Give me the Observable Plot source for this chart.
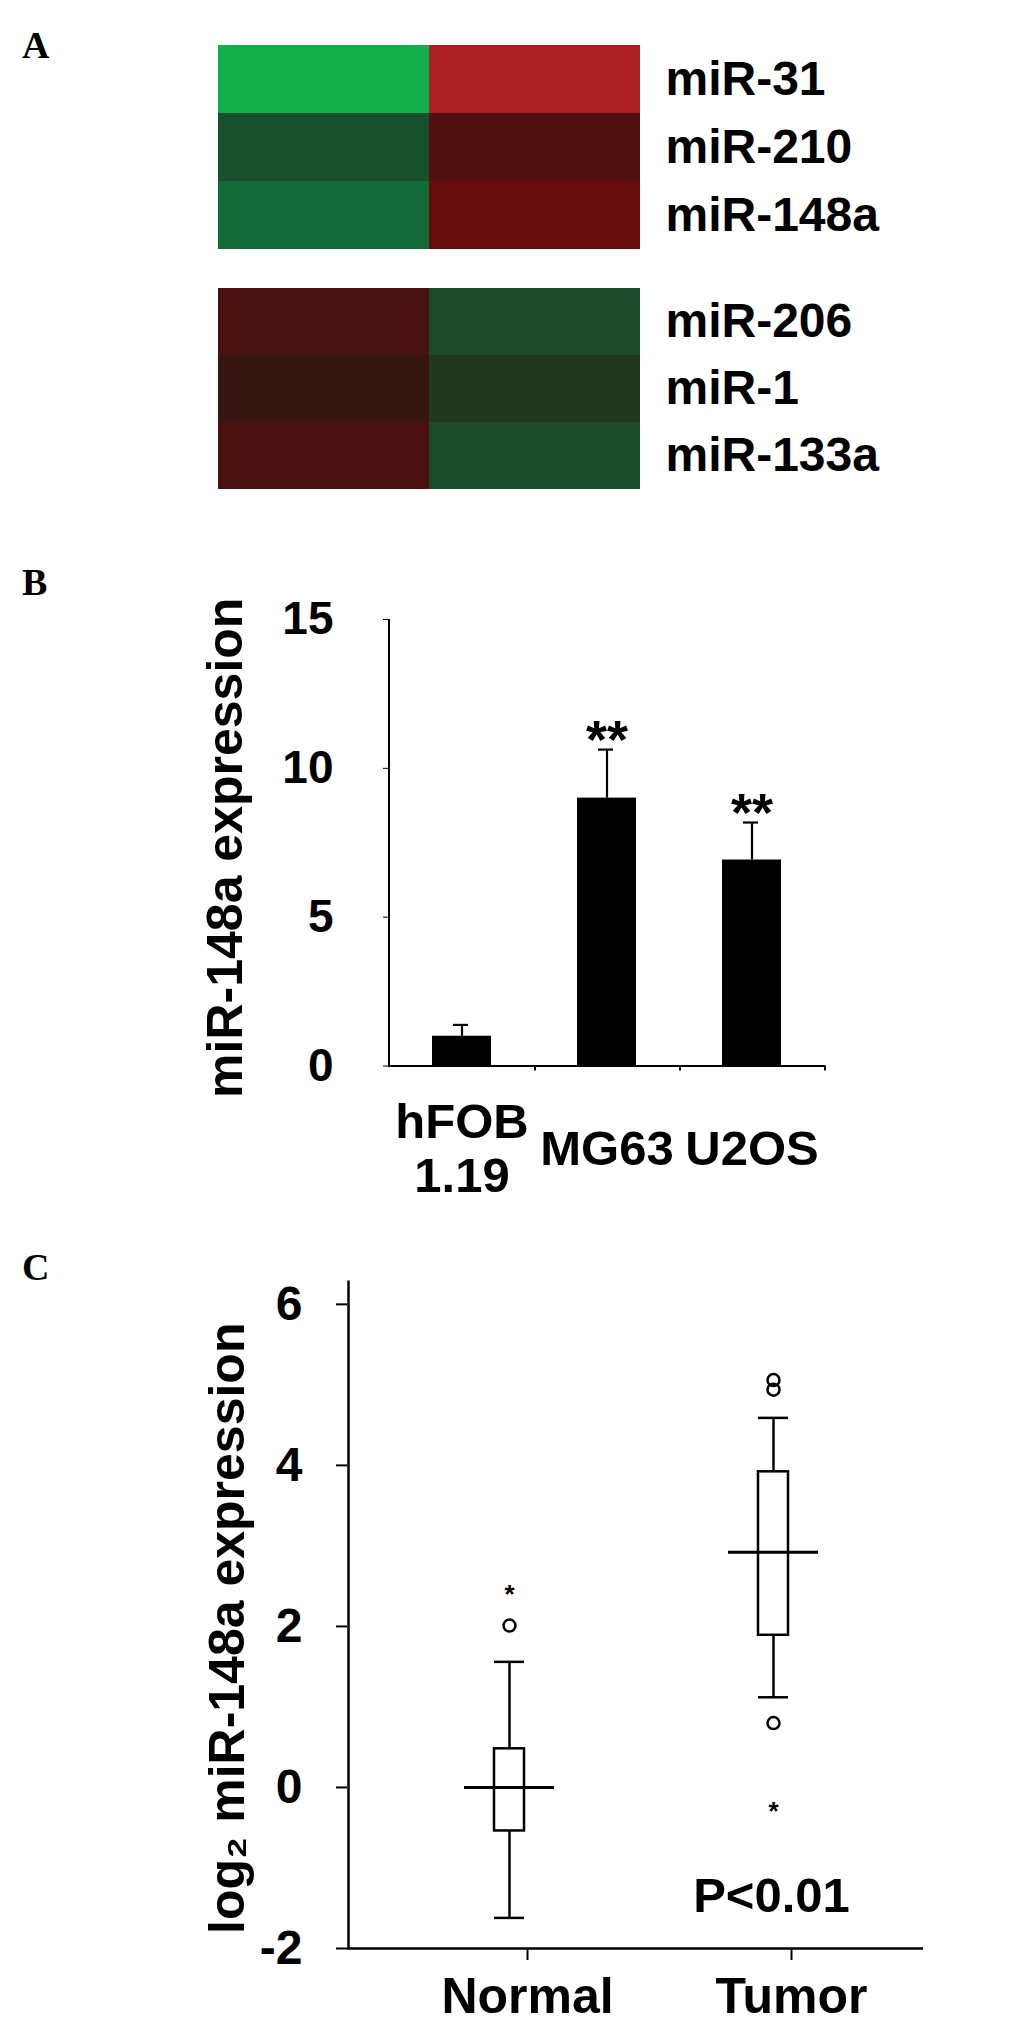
<!DOCTYPE html>
<html>
<head>
<meta charset="utf-8">
<script src="https://cdn.jsdelivr.net/npm/d3@7"></script>
<script src="https://cdn.jsdelivr.net/npm/@observablehq/plot@0.6"></script>
<style>
html, body { margin: 0; padding: 0; background: #fff; }
#page { position: relative; width: 1033px; height: 2023px; overflow: hidden; background: #fff; }
.panel { position: absolute; left: 0; }
.tag { position: absolute; left: 22px; font: bold 38px 'Liberation Serif', 'Times New Roman', serif; line-height: 38px; color: #000; }
</style>
</head>
<body>
<div id="page"></div>
<script>
// ---------- Panel A: heatmap ----------
const heatColumns = ["control", "osteosarcoma"];
const upRows = ["miR-31", "miR-210", "miR-148a"];
const upControl = [-1.0, -0.335, -0.5];
const upTumor = [1.0, 0.3, 0.5];
const downRows = ["miR-206", "miR-1", "miR-133a"];
const downControl = [0.23, 0.09, 0.26];
const downTumor = [-0.3, -0.19, -0.31];

// ---------- Panel B: bar chart ----------
const cellLines = ["hFOB\n1.19", "MG63", "U2OS"];
const expression = [1.0, 9.0, 6.92];
const expressionErr = [0.38, 1.63, 1.26];
const significance = ["", "**", "**"];
const yTicksB = [0, 5, 10, 15];
const yLabelB = "miR-148a expression";

// ---------- Panel C: box plot ----------
const groups = ["Normal", "Tumor"];
const q1 = [-0.54, 1.89];
const median = [0.0, 2.92];
const q3 = [0.48, 3.92];
const whiskerLow = [-1.62, 1.12];
const whiskerHigh = [1.56, 4.59];
const outlierGroup = ["Normal", "Tumor", "Tumor", "Tumor"];
const outlierValue = [2.01, 5.06, 4.94, 0.80];
const extremeGroup = ["Normal", "Tumor"];
const extremeValue = [2.47, -0.23];
const yTicksC = [-2, 0, 2, 4, 6];
const yLabelC = "log\u2082 miR-148a expression";
const pText = ["P<0.01"];

const SANS = "'Liberation Sans', Arial, Helvetica, sans-serif";
const page = document.getElementById("page");

function place(node, top) {
  node.classList.add("panel");
  node.style.top = top + "px";
  page.appendChild(node);
}
function tag(letter, top) {
  const d = document.createElement("div");
  d.className = "tag";
  d.textContent = letter;
  d.style.top = top + "px";
  page.appendChild(d);
}

function heat(rows, ctrl, tum, height, marginTop) {
  const data = rows.flatMap((r, i) => [
    {row: r, col: heatColumns[0], v: ctrl[i]},
    {row: r, col: heatColumns[1], v: tum[i]}
  ]);
  return Plot.plot({
    width: 1033, height, marginTop, marginBottom: 0, marginLeft: 218, marginRight: 393,
    style: {fontFamily: SANS, fontWeight: "bold", background: "transparent", color: "black"},
    x: {domain: heatColumns, padding: 0, axis: null},
    y: {domain: rows, padding: 0},
    color: {
      type: "linear",
      domain: [-1, -0.5, 0, 0.5, 1],
      range: ["#14ad4b", "#116a38", "#2a1814", "#680b0c", "#ab1e24"],
      interpolate: "rgb"
    },
    marks: [
      Plot.cell(data, {x: "col", y: "row", fill: "v", inset: 0}),
      Plot.axisY({anchor: "right", tickSize: 0, tickPadding: 25, fontSize: 48, label: null})
    ]
  });
}

tag("A", 26);
place(heat(upRows, upControl, upTumor, 250, 44), 0);
place(heat(downRows, downControl, downTumor, 239, 37), 250);

// Panel B
const bData = cellLines.map((c, i) => ({cell: c, v: expression[i], e: expressionErr[i], s: significance[i]}));
tag("B", 563);
place(Plot.plot({
  width: 1033, height: 680, marginTop: 79, marginBottom: 154.5, marginLeft: 388, marginRight: 208,
  style: {fontFamily: SANS, fontWeight: "bold", background: "transparent", color: "black"},
  x: {domain: cellLines, padding: 0},
  y: {domain: [0, 15]},
  marks: [
    Plot.barY(bData, {x: "cell", y: "v", fill: "black", insetLeft: 43, insetRight: 43}),
    Plot.ruleX(bData, {x: "cell", y1: "v", y2: d => d.v + d.e, strokeWidth: 2.2}),
    Plot.tickY(bData, {x: "cell", y: d => d.v + d.e, strokeWidth: 2.2, insetLeft: 64, insetRight: 66}),
    Plot.text(bData, {x: "cell", y: d => d.v + d.e, text: "s", fontSize: 54, dy: -9}),
    Plot.ruleY([0], {strokeWidth: 2.2}),
    Plot.ruleX([cellLines[0]], {dx: -73, strokeWidth: 2}),
    Plot.ruleX(cellLines, {x: d => d, dx: 73, y1: 0, y2: -0.17, strokeWidth: 2}),
    Plot.axisY({ticks: yTicksB, tickSize: 5, tickPadding: 50, fontSize: 46, tickFormat: d => String(d), label: null}),
    Plot.axisX({tickSize: 0, tickPadding: 81.5, lineAnchor: "middle", lineHeight: 1.1, fontSize: 49, label: null}),
    Plot.text([yLabelB], {text: d => d, frameAnchor: "left", textAnchor: "middle", lineAnchor: "middle", rotate: -90, dx: -163, dy: 5, fontSize: 50})
  ]
}), 540);

// Panel C
const boxData = groups.map((g, i) => ({g, q1: q1[i], med: median[i], q3: q3[i], lo: whiskerLow[i], hi: whiskerHigh[i]}));
const outliers = outlierGroup.map((g, i) => ({g, v: outlierValue[i]}));
const extremes = extremeGroup.map((g, i) => ({g, v: extremeValue[i]}));
const BDX = -18;
tag("C", 1248);
place(Plot.plot({
  width: 1033, height: 793, marginTop: 50.5, marginBottom: 75, marginLeft: 347, marginRight: 110,
  style: {fontFamily: SANS, fontWeight: "bold", background: "transparent", color: "black"},
  x: {domain: groups, padding: 0, insetLeft: 47},
  y: {domain: [-2, 6.29]},
  marks: [
    Plot.ruleX(boxData, {x: "g", y1: "q3", y2: "hi", dx: BDX, strokeWidth: 2.5}),
    Plot.ruleX(boxData, {x: "g", y1: "lo", y2: "q1", dx: BDX, strokeWidth: 2.5}),
    Plot.barY(boxData, {x: "g", y1: "q1", y2: "q3", fill: "white", stroke: "black", strokeWidth: 2.5, insetLeft: 117, insetRight: 117, dx: BDX}),
    Plot.tickY(boxData, {x: "g", y: "hi", insetLeft: 117, insetRight: 117, dx: BDX, strokeWidth: 2.5}),
    Plot.tickY(boxData, {x: "g", y: "lo", insetLeft: 117, insetRight: 117, dx: BDX, strokeWidth: 2.5}),
    Plot.tickY(boxData, {x: "g", y: "med", insetLeft: 87, insetRight: 87, dx: BDX, strokeWidth: 3}),
    Plot.dot(outliers, {x: "g", y: "v", r: 6, stroke: "black", strokeWidth: 2.5, dx: BDX}),
    Plot.text(extremes, {x: "g", y: "v", text: () => "*", fontSize: 26, dx: BDX, dy: 6}),
    Plot.ruleY([-2], {strokeWidth: 2.5}),
    Plot.ruleX([groups[0]], {dx: -179, strokeWidth: 2.5}),
    Plot.axisY({ticks: yTicksC, tickSize: 11, tickPadding: 34, fontSize: 48, strokeWidth: 2, tickFormat: d => String(d), label: null}),
    Plot.axisX({tickSize: 12, tickPadding: 17, fontSize: 50, strokeWidth: 2, label: null}),
    Plot.text(pText, {x: () => groups[1], text: d => d, frameAnchor: "bottom", lineAnchor: "middle", textAnchor: "middle", dx: -20, dy: -52, fontSize: 49}),
    Plot.text([yLabelC], {text: d => d, frameAnchor: "left", textAnchor: "middle", lineAnchor: "middle", rotate: -90, dx: -120, dy: 13.5, fontSize: 50})
  ]
}), 1230);
</script>
</body>
</html>
